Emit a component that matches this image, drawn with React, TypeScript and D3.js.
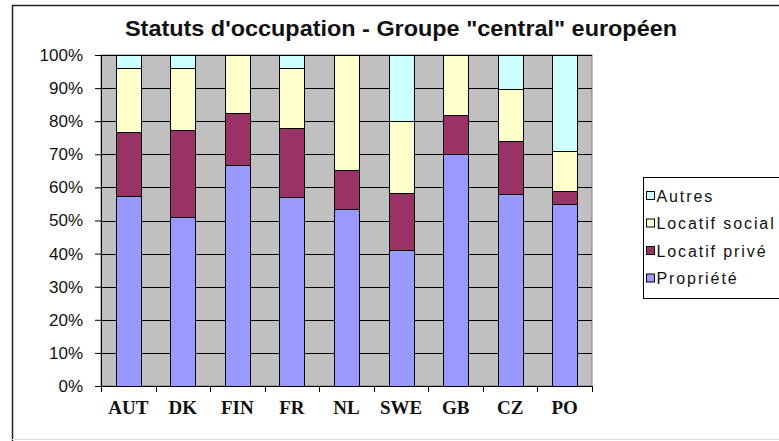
import { useEffect, useRef } from "react";
import * as d3 from "d3";

const categories = ["AUT", "DK", "FIN", "FR", "NL", "SWE", "GB", "CZ", "PO"];
const propriete = [57.4, 51, 66.8, 57.2, 53.4, 41.1, 70, 58, 55];
const locatifPrive = [19.2, 26.3, 15.6, 20.6, 11.9, 17.1, 11.9, 16.1, 4];
const locatifSocial = [19.6, 18.9, 17.6, 18.4, 34.7, 21.9, 18.1, 15.6, 12];
const autres = [3.8, 3.8, 0, 3.8, 0, 19.9, 0, 10.3, 29];
const yTicks = [0, 10, 20, 30, 40, 50, 60, 70, 80, 90, 100];

const seriesNames = ["Propriété", "Locatif privé", "Locatif social", "Autres"];
const seriesColors = ["#9999ff", "#993366", "#ffffcc", "#ccffff"];

export default function App() {
  const svgRef = useRef<SVGSVGElement | null>(null);

  useEffect(() => {
    document.body.style.margin = "0";
    if (!svgRef.current) return;
    const svg = d3.select(svgRef.current);
    svg.selectAll("*").remove();

    const width = 779;
    const height = 441;
    const margin = { top: 55, left: 101, right: 187, bottom: 55 };
    const innerW = width - margin.left - margin.right;
    const innerH = height - margin.top - margin.bottom;

    // outer frame
    svg.append("rect").attr("width", width).attr("height", height).attr("fill", "#fff");
    svg
      .append("path")
      .attr("d", `M12.5,${height} V5.5 H${width}`)
      .attr("fill", "none")
      .attr("stroke", "#222")
      .attr("stroke-width", 1.5);
    svg
      .append("line")
      .attr("x1", 12)
      .attr("x2", width)
      .attr("y1", 439.5)
      .attr("y2", 439.5)
      .attr("stroke", "#ddd");

    svg
      .append("text")
      .attr("x", 401)
      .attr("y", 36)
      .attr("text-anchor", "middle")
      .attr("font-family", "Liberation Sans, Arial, sans-serif")
      .attr("font-weight", "bold")
      .attr("font-size", 22.5)
      .attr("textLength", 552)
      .attr("lengthAdjust", "spacingAndGlyphs")
      .attr("fill", "#111")
      .text('Statuts d\'occupation - Groupe "central" européen');

    const rows = categories.map((c, i) => ({
      cat: c,
      "Propriété": propriete[i],
      "Locatif privé": locatifPrive[i],
      "Locatif social": locatifSocial[i],
      Autres: autres[i],
    }));

    const x = d3.scaleBand().domain(categories).range([0, innerW]).paddingInner(0.54).paddingOuter(0.27);
    const band = d3.scaleBand().domain(categories).range([0, innerW]);
    const y = d3.scaleLinear().domain([0, 100]).range([innerH, 0]);

    const g = svg.append("g").attr("transform", `translate(${margin.left},${margin.top})`);

    g.append("rect")
      .attr("width", innerW)
      .attr("height", innerH)
      .attr("fill", "#c0c0c0")
      .attr("stroke", "#808080");

    g.selectAll("line.grid")
      .data(yTicks)
      .join("line")
      .attr("class", "grid")
      .attr("x1", 0)
      .attr("x2", innerW)
      .attr("y1", (d) => Math.round(y(d)) + 0.5)
      .attr("y2", (d) => Math.round(y(d)) + 0.5)
      .attr("stroke", "#000");

    const stacked = d3.stack<any>().keys(seriesNames)(rows);
    g.selectAll("g.layer")
      .data(stacked)
      .join("g")
      .attr("class", "layer")
      .attr("fill", (_, i) => seriesColors[i])
      .selectAll("rect")
      .data((d) => d.filter((p) => p[1] - p[0] > 0))
      .join("rect")
      .attr("x", (d) => Math.round(x(d.data.cat) ?? 0) + 0.5)
      .attr("width", Math.round(x.bandwidth()))
      .attr("y", (d) => Math.round(y(d[1])) + 0.5)
      .attr("height", (d) => Math.round(y(d[0])) - Math.round(y(d[1])))
      .attr("stroke", "#000")
      .attr("stroke-width", 1);

    // y axis
    const yAxis = g
      .append("g")
      .call(d3.axisLeft(y).tickValues(yTicks).tickSize(6).tickPadding(12).tickFormat((d) => `${d}%`));
    yAxis.selectAll("line,path").attr("stroke", "#000");
    yAxis
      .selectAll("text")
      .attr("font-family", "Liberation Sans, Arial, sans-serif")
      .attr("font-size", 17)
      .attr("fill", "#111");

    // x axis
    const xAxis = g.append("g").attr("transform", `translate(0,${innerH})`);
    xAxis
      .append("line")
      .attr("x1", 0)
      .attr("x2", innerW)
      .attr("y1", 0.5)
      .attr("y2", 0.5)
      .attr("stroke", "#000");
    xAxis
      .selectAll("line.tick")
      .data([...categories.map((c) => band(c) ?? 0), innerW])
      .join("line")
      .attr("class", "tick")
      .attr("x1", (d) => Math.round(d) + 0.5)
      .attr("x2", (d) => Math.round(d) + 0.5)
      .attr("y1", 0)
      .attr("y2", 6)
      .attr("stroke", "#000");
    xAxis
      .selectAll("text")
      .data(categories)
      .join("text")
      .attr("x", (d) => (band(d) ?? 0) + band.bandwidth() / 2)
      .attr("y", 28)
      .attr("text-anchor", "middle")
      .attr("font-family", "Liberation Serif, Times New Roman, serif")
      .attr("font-weight", "bold")
      .attr("font-size", 19)
      .attr("fill", "#111")
      .text((d) => d);

    // legend
    const legend = svg.append("g").attr("transform", "translate(643.5,177.5)");
    legend
      .append("rect")
      .attr("width", 150)
      .attr("height", 121)
      .attr("fill", "#fff")
      .attr("stroke", "#000");
    const legendOrder = [3, 2, 1, 0];
    const items = legend
      .selectAll("g.item")
      .data(legendOrder)
      .join("g")
      .attr("class", "item")
      .attr("transform", (_, i) => `translate(3,${18 + i * 27.5})`);
    items
      .append("rect")
      .attr("x", 0)
      .attr("y", -4)
      .attr("width", 8)
      .attr("height", 8)
      .attr("fill", (d) => seriesColors[d])
      .attr("stroke", "#000");
    items
      .append("text")
      .attr("x", 10)
      .attr("y", 6)
      .attr("font-family", "Liberation Sans, Arial, sans-serif")
      .attr("font-size", 16)
      .attr("letter-spacing", 1.9)
      .attr("fill", "#111")
      .text((d) => seriesNames[d]);
  }, []);

  return <svg ref={svgRef} width={779} height={441} style={{ display: "block" }} />;
}
